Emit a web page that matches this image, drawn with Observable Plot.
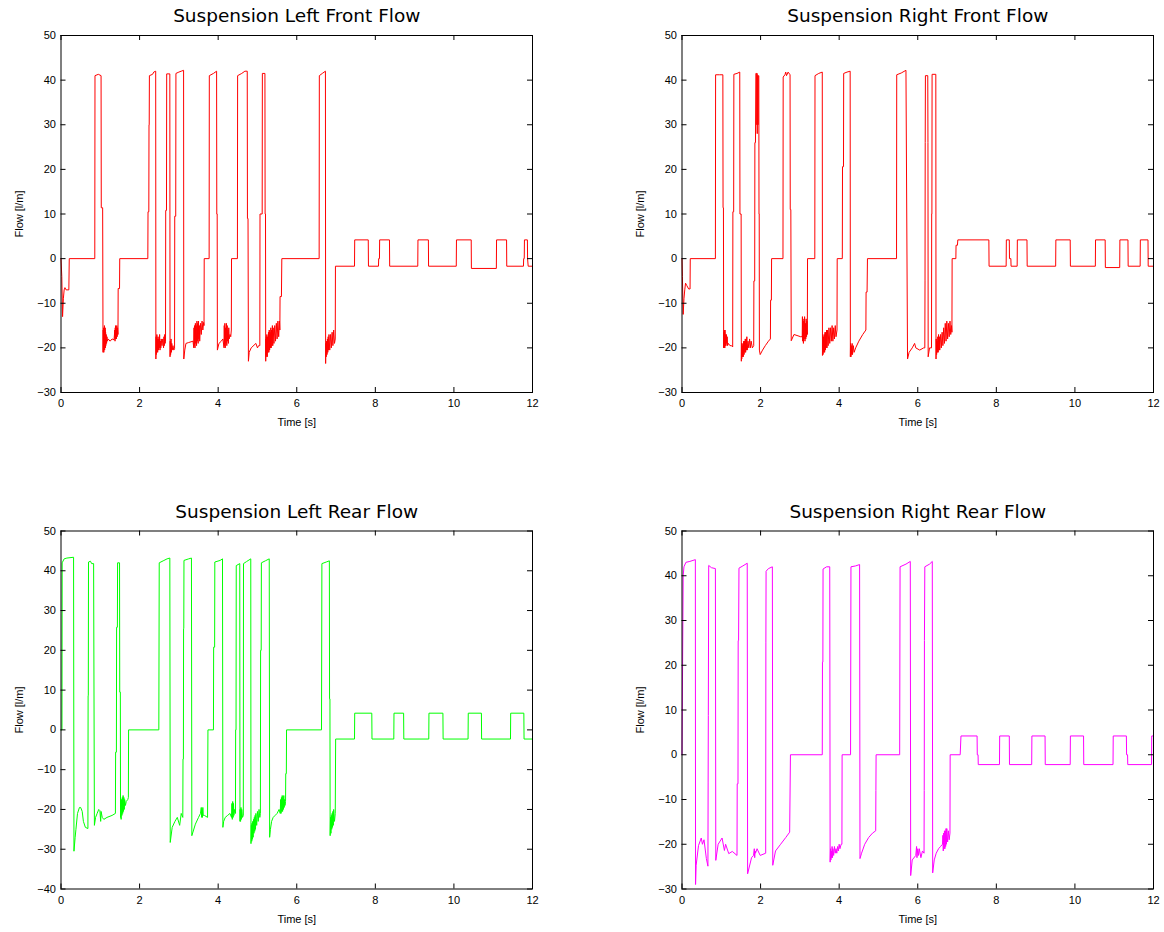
<!DOCTYPE html>
<html>
<head>
<meta charset="utf-8">
<script src="https://cdn.jsdelivr.net/npm/d3@7"></script>
<script src="https://cdn.jsdelivr.net/npm/@observablehq/plot@0.6"></script>
<style>
  html, body { margin: 0; padding: 0; background: #fff; }
  #wrap { position: relative; width: 1164px; height: 932px; background: #fff; overflow: hidden; }
  .panel { position: absolute; }
  .panel svg { max-width: none !important; }
</style>
</head>
<body>
<div id="wrap"></div>
<script>
// ---------- data ----------
const timeTicks = [0, 2, 4, 6, 8, 10, 12];
const flowTicksFront = [-30, -20, -10, 0, 10, 20, 30, 40, 50];
const flowTicksLeftRear = [-40, -30, -20, -10, 0, 10, 20, 30, 40, 50];
const flowTicksRightRear = [-30, -20, -10, 0, 10, 20, 30, 40, 50];
const panelTitles = ["Suspension Left Front Flow", "Suspension Right Front Flow", "Suspension Left Rear Flow", "Suspension Right Rear Flow"];
const panelColors = ["#ff0000", "#ff0000", "#00ff00", "#ff00ff"];

// [time s, flow l/m]
const leftFront = [
[0,0],[0.02,-4],[0.04,-13],[0.06,-9],[0.08,-7],[0.1,-6.5],[0.13,-7],[0.2,-7],[0.21,0],
[0.86,0],[0.865,41],[0.95,41.3],[1.02,41],[1.025,11.4],[1.06,11.4],
[1.07,-21],[1.075,-16],[1.08,-20.5],[1.085,-15.5],[1.09,-21],[1.095,-16.5],[1.1,-20],[1.105,-15],[1.11,-20.5],[1.115,-16],[1.12,-19.5],[1.125,-15.5],[1.13,-20],[1.135,-16.5],[1.14,-19.5],[1.15,-17],[1.16,-19],[1.17,-17.5],[1.18,-18.5],[1.2,-18],[1.25,-18.5],[1.3,-18],[1.35,-18.2],[1.37,-16],[1.375,-18.5],[1.38,-15.5],[1.385,-18],[1.39,-15],[1.395,-17.5],[1.4,-15.5],[1.41,-18],[1.42,-15],[1.43,-17.5],[1.44,-15.5],[1.45,-17],[1.455,-6.7],[1.49,-6.7],[1.495,0],
[2.21,0],[2.215,10.5],[2.235,10.5],[2.24,30],[2.245,30],[2.25,41],[2.33,41.3],[2.36,41.8],[2.41,42],
[2.415,-22.5],[2.42,-17.5],[2.425,-21.5],[2.43,-18],[2.435,-21],[2.44,-17],[2.445,-20.5],[2.45,-18],[2.46,-21],[2.47,-17.5],[2.48,-20.5],[2.49,-18],[2.5,-20],[2.51,-17],[2.52,-20.5],[2.53,-18.5],[2.54,-20],[2.55,-18],[2.57,-19.5],[2.59,-18],[2.61,-20],[2.62,-17.5],[2.63,-19.5],[2.64,-17],[2.65,-19],[2.66,-18.5],
[2.665,10.8],[2.685,10.8],[2.69,41.4],[2.77,41.4],
[2.775,-22],[2.78,-18.5],[2.79,-21.5],[2.8,-18],[2.81,-21],[2.82,-19],[2.83,-20.5],[2.85,-19.5],[2.87,-20.5],[2.89,-20.2],
[2.895,9.5],[2.92,9.5],[2.925,41.5],[3.0,41.8],[3.06,42],[3.12,42.2],
[3.125,-22.5],[3.15,-20.5],[3.18,-19],[3.25,-18.8],[3.36,-18.5],[3.38,-20],[3.385,-15.5],[3.39,-19.5],[3.4,-15],[3.41,-20],[3.42,-14.5],[3.43,-19],[3.44,-15],[3.45,-19.5],[3.46,-14],[3.47,-18.5],[3.48,-14.5],[3.49,-19],[3.5,-14],[3.51,-18],[3.52,-15],[3.53,-18.5],[3.55,-14.5],[3.57,-17],[3.59,-14],[3.61,-16],[3.63,-14.3],[3.64,-15],[3.645,0],
[3.77,0],[3.775,41],[3.88,41.5],[3.96,42],[3.965,10],[3.975,10],
[3.98,-20.5],[4.02,-19],[4.08,-18.5],[4.12,-18],[4.15,-20],[4.155,-15],[4.16,-19.5],[4.17,-14.5],[4.18,-20],[4.19,-15.5],[4.2,-19],[4.21,-14.5],[4.22,-19.5],[4.23,-15],[4.24,-18.5],[4.25,-16],[4.26,-19],[4.27,-15.5],[4.28,-18],[4.3,-17],[4.32,-17.5],[4.335,-16],[4.34,0],
[4.49,0],[4.495,41],[4.6,41.5],[4.68,42],[4.74,42],[4.745,9],[4.76,9],
[4.77,-23],[4.79,-21],[4.84,-20],[4.96,-19],[5.0,-20],[5.03,-19.5],[5.06,-19.5],
[5.065,10],[5.12,10],[5.125,41.5],[5.19,41.5],[5.195,10],[5.205,10],
[5.21,-23],[5.215,-18],[5.22,-22],[5.225,-17.5],[5.23,-21.5],[5.24,-17],[5.25,-22],[5.26,-17.5],[5.27,-21],[5.28,-16.5],[5.29,-21],[5.3,-16],[5.31,-20.5],[5.32,-16.5],[5.33,-20],[5.34,-15.5],[5.35,-20],[5.36,-16],[5.37,-19.5],[5.38,-15],[5.39,-19.5],[5.4,-15.5],[5.42,-19],[5.44,-15],[5.46,-18.5],[5.48,-14.5],[5.5,-18],[5.52,-14],[5.54,-17.5],[5.56,-14],[5.57,-16],[5.575,-8.5],[5.61,-8.5],[5.62,0],
[6.57,0],[6.575,41],[6.65,41.5],[6.73,42],
[6.735,-23.5],[6.74,-19],[6.75,-22],[6.76,-18.5],[6.77,-21.5],[6.78,-18],[6.79,-21],[6.8,-17.5],[6.81,-20.5],[6.82,-17],[6.84,-20.5],[6.86,-17],[6.88,-20],[6.9,-16.5],[6.92,-19.5],[6.94,-16],[6.96,-19],[6.98,-18],
[6.985,-1.7],[7.47,-1.7],[7.475,4.2],[7.82,4.2],[7.825,-1.7],[8.08,-1.7],[8.085,0],[8.105,0],[8.11,4.2],[8.36,4.2],[8.365,-1.7],
[9.08,-1.7],[9.085,4.2],[9.35,4.2],[9.355,-1.7],[10.06,-1.7],[10.065,4.2],[10.44,4.2],[10.445,-2.2],[11.08,-2.2],[11.085,4.2],[11.34,4.2],[11.345,-1.7],
[11.77,-1.7],[11.775,0],[11.79,0],[11.795,4.2],[11.87,4.2],[11.875,0],[11.89,-1.7],[12,-1.7]
];

const rightFront = [
[0,0],[0.01,-4],[0.03,-12.5],[0.05,-9],[0.07,-7],[0.09,-5.5],[0.12,-6],[0.17,-6.8],[0.205,-6.8],[0.21,0],
[0.85,0],[0.855,41.2],[0.95,41.2],[1.04,41.2],[1.045,11.4],[1.055,11.4],
[1.06,-20],[1.065,-16.5],[1.07,-20],[1.075,-16],[1.08,-19.5],[1.085,-16.5],[1.09,-20],[1.095,-16],[1.1,-19.5],[1.11,-17],[1.12,-19.5],[1.13,-17],[1.14,-19],[1.15,-17.5],[1.16,-19.5],[1.18,-19],[1.22,-19.5],[1.26,-19.5],[1.29,-19.8],
[1.295,10.5],[1.315,10.5],[1.32,41.3],[1.4,41.5],[1.47,41.8],[1.475,10],[1.505,10],
[1.51,-23],[1.515,-19],[1.52,-22.5],[1.53,-19.5],[1.54,-22],[1.55,-19],[1.56,-22],[1.57,-18.5],[1.58,-21.5],[1.59,-18.5],[1.6,-21],[1.61,-18],[1.62,-21],[1.63,-18],[1.64,-20.5],[1.65,-17.5],[1.66,-20.5],[1.68,-18.5],[1.7,-20],[1.72,-18],[1.74,-20],[1.76,-18.5],[1.79,-20],[1.825,-19.5],
[1.83,-5],[1.85,-5],[1.855,26],[1.87,26],[1.88,41.5],[1.9,41.5],[1.905,30],[1.91,41.5],[1.915,28],[1.92,41],[1.93,41],[1.935,30],[1.94,41],[1.955,41],[1.96,10],[1.965,10],
[1.97,-20.5],[1.99,-21.5],[2.05,-20.5],[2.12,-19.5],[2.2,-18.5],[2.25,-18],[2.255,-9.3],[2.275,-9.3],[2.28,0],
[2.57,0],[2.575,40.7],[2.62,41.2],[2.64,41.8],[2.66,41],[2.7,41.8],[2.75,41.2],[2.755,11],[2.77,11],
[2.78,-18.4],[2.85,-17],[3.02,-17.5],[3.06,-17.5],[3.065,-13],[3.07,-18.5],[3.08,-13.5],[3.09,-19],[3.1,-14],[3.11,-18],[3.12,-13],[3.13,-18.5],[3.14,-14.5],[3.15,-18],[3.16,-13.5],[3.17,-17.5],[3.18,-14],[3.19,-17],[3.195,0],
[3.38,0],[3.385,41],[3.48,41.5],[3.57,41.8],
[3.575,-21.7],[3.58,-17],[3.59,-21.5],[3.6,-17.5],[3.61,-21],[3.62,-17],[3.63,-21],[3.64,-16.5],[3.65,-20.5],[3.66,-16.5],[3.67,-20],[3.68,-16],[3.69,-20],[3.7,-16],[3.72,-19.5],[3.74,-15.5],[3.76,-19],[3.78,-15.5],[3.8,-18.5],[3.82,-15],[3.84,-18.5],[3.86,-15.5],[3.88,-18],[3.9,-15],[3.92,-17.5],[3.945,-16],[3.95,0],
[4.08,0],[4.085,20.6],[4.11,20.6],[4.115,41.5],[4.2,41.8],[4.28,42],
[4.285,-22],[4.29,-19],[4.3,-22],[4.31,-19.5],[4.32,-21.5],[4.33,-19],[4.34,-21.5],[4.36,-19.5],[4.38,-21],[4.42,-20],[4.5,-18.5],[4.6,-17],[4.68,-16],[4.685,-7.5],[4.71,-7.5],[4.72,0],
[5.46,0],[5.465,41.2],[5.58,41.6],[5.7,42.2],
[5.74,-22.5],[5.78,-21],[5.86,-20],[5.92,-19],[5.95,-20],[6.05,-20.5],[6.15,-20],[6.18,-20],
[6.185,-5],[6.19,26],[6.195,41],[6.255,41],[6.26,26],[6.265,-22],[6.3,-20],[6.35,-20],
[6.355,10],[6.36,10],[6.365,41.3],[6.46,41.3],
[6.465,-22.5],[6.47,-18],[6.48,-21.5],[6.49,-18.5],[6.5,-21],[6.51,-17.5],[6.52,-21],[6.53,-17],[6.54,-20.5],[6.55,-17.5],[6.56,-20.5],[6.58,-17],[6.6,-20],[6.62,-16.5],[6.64,-19.5],[6.66,-15.5],[6.68,-19],[6.7,-14.5],[6.72,-18.5],[6.74,-14],[6.76,-18],[6.78,-14.5],[6.8,-17.5],[6.82,-14],[6.84,-17],[6.86,-15],[6.87,-16.5],
[6.875,0],[6.97,0],[6.975,3],[7.01,3],[7.02,4.2],
[7.81,4.2],[7.815,-1.7],[8.25,-1.7],[8.255,4.2],[8.33,4.2],[8.335,0],[8.37,0],[8.375,-1.7],[8.53,-1.7],[8.535,4.2],[8.78,4.2],[8.785,-1.7],
[9.51,-1.7],[9.515,4.2],[9.88,4.2],[9.885,-1.7],[10.52,-1.7],[10.525,4.2],[10.77,4.2],[10.775,-2],[11.14,-2],[11.145,4.2],[11.35,4.2],[11.355,-1.7],
[11.66,-1.7],[11.665,4.2],[11.86,4.2],[11.865,-1.7],[12,-1.7]
];

const leftRear = [
[0,0],[0.025,0],[0.03,42],[0.08,43],[0.15,43.2],[0.32,43.4],
[0.33,-30.5],[0.36,-27],[0.38,-25],[0.42,-21],[0.47,-19.5],[0.5,-19.5],[0.54,-20.5],[0.57,-23],[0.62,-24.5],[0.685,-24.8],
[0.69,8.6],[0.695,8.6],[0.7,42.2],[0.75,42.4],[0.78,41.8],[0.83,41.8],
[0.85,-24],[0.88,-22],[0.92,-21],[0.96,-20],[0.99,-20.3],[1.01,-23],[1.02,-20.5],[1.05,-22],[1.09,-22.5],[1.17,-22],[1.3,-21.5],[1.385,-21],
[1.39,-5.6],[1.41,-5.6],[1.415,25.8],[1.435,25.8],[1.44,42],[1.49,42],[1.495,9.5],[1.51,9.5],
[1.515,-22],[1.52,-18],[1.53,-22.5],[1.54,-17.5],[1.55,-21.5],[1.56,-17],[1.57,-21],[1.58,-16.5],[1.59,-20.5],[1.6,-17],[1.61,-20],[1.62,-17.5],[1.64,-19],[1.66,-18],[1.7,-17.5],[1.715,-17],[1.72,0],
[2.49,0],[2.5,42],[2.6,42.5],[2.7,43],[2.77,43.2],
[2.78,-28.3],[2.83,-24.5],[2.9,-23],[2.96,-22],[3.02,-24],[3.06,-21],[3.1,-22],[3.105,-7.3],[3.115,-7.3],[3.12,25.5],[3.125,25.5],[3.13,42.6],[3.25,43],[3.32,43.2],
[3.33,-26.6],[3.42,-23.7],[3.5,-22],[3.55,-21],[3.57,-19.5],[3.58,-22],[3.59,-20],[3.6,-22],[3.61,-19.5],[3.62,-21.5],[3.65,-21.5],[3.73,-22],[3.74,0],
[3.88,0],[3.885,20.8],[3.91,20.8],[3.915,42.2],[4.05,42.6],[4.11,43],
[4.12,-24.5],[4.14,-23],[4.18,-22],[4.24,-21.5],[4.3,-21],[4.34,-22],[4.35,-18.5],[4.36,-22.5],[4.37,-18],[4.38,-22],[4.39,-18.5],[4.4,-21.5],[4.42,-20],[4.44,-21],
[4.445,0],[4.455,0],[4.46,41.3],[4.55,41.8],
[4.555,-23],[4.56,-20],[4.57,-23],[4.58,-19.5],[4.59,-22.5],[4.6,-20],[4.62,-22],[4.64,-21.5],
[4.645,41.8],[4.72,42.3],[4.83,43],
[4.835,-28.6],[4.845,-24],[4.855,-28],[4.86,-23.5],[4.87,-27.5],[4.88,-23],[4.89,-27],[4.9,-22.5],[4.91,-26],[4.92,-22],[4.93,-25.5],[4.94,-21.5],[4.95,-25],[4.96,-21],[4.98,-24],[5.0,-20.5],[5.02,-23],[5.04,-20],[5.06,-22],[5.075,-21],
[5.08,20],[5.095,20],[5.1,42],[5.2,42.5],[5.3,43],
[5.31,-27],[5.33,-25],[5.36,-23],[5.4,-22],[5.45,-21.5],[5.5,-21],[5.55,-20],[5.58,-21],[5.59,-17.5],[5.6,-21],[5.61,-17],[5.62,-20.5],[5.63,-16.5],[5.64,-20.5],[5.65,-17],[5.66,-20],[5.67,-16.5],[5.68,-19.5],[5.69,-17.5],[5.7,-19],[5.715,-18],
[5.72,-11],[5.735,-11],[5.74,0],
[6.63,0],[6.64,41.8],[6.75,42.2],[6.83,42.5],[6.835,7.8],[6.845,7.8],
[6.85,-26.6],[6.86,-22],[6.87,-26],[6.88,-21.5],[6.89,-25],[6.9,-21],[6.91,-24.5],[6.92,-20.5],[6.93,-24],[6.94,-20],[6.96,-23],[6.98,-21],
[6.99,-2.3],[7.47,-2.3],[7.475,4.2],[7.91,4.2],[7.915,-2.3],[8.47,-2.3],[8.475,4.2],[8.72,4.2],[8.725,-2.3],
[9.36,-2.3],[9.365,4.2],[9.72,4.2],[9.725,-2.3],[10.36,-2.3],[10.365,4.2],[10.7,4.2],[10.705,-2.3],
[11.44,-2.3],[11.445,4.2],[11.78,4.2],[11.785,-2.3],[12,-2.3]
];

const rightRear = [
[0,0],[0.03,40],[0.05,42],[0.1,43],[0.2,43.2],[0.34,43.6],
[0.345,-29],[0.36,-24.7],[0.42,-20.3],[0.49,-18.6],[0.52,-20],[0.56,-19],[0.62,-23.2],[0.66,-24.9],
[0.665,-6.1],[0.67,8.8],[0.68,42.3],[0.75,41.8],[0.85,41.6],
[0.86,-23.6],[0.92,-20],[1.02,-18.6],[1.08,-21.4],[1.11,-20],[1.19,-22.1],[1.28,-21.6],[1.4,-22.5],
[1.405,-6.5],[1.425,-6.5],[1.43,25.5],[1.44,25.5],[1.45,41.7],[1.55,42.2],[1.66,42.8],
[1.67,-26.6],[1.77,-23],[1.82,-22.5],[1.84,-21],[1.85,-23],[1.86,-21.5],[1.87,-22],[1.91,-21],[1.99,-22.5],[2.13,-22],
[2.135,25],[2.14,41],[2.2,41.6],[2.3,42],
[2.31,-24.7],[2.38,-21.5],[2.51,-20],[2.64,-18.5],[2.74,-17.3],[2.76,0],
[3.57,0],[3.575,20.7],[3.585,20.7],[3.59,41.5],[3.68,42],[3.76,42],
[3.77,-24],[3.78,-21],[3.79,-23.5],[3.8,-21.5],[3.81,-23],[3.82,-20.5],[3.83,-23],[3.84,-21],[3.86,-22.5],[3.88,-20.5],[3.9,-22],[3.92,-21],[3.94,-22],[3.96,-20.5],[3.98,-21.5],[4.0,-20],[4.02,-21],[4.05,-20],[4.07,-20],
[4.075,0],[4.29,0],[4.3,42],[4.42,42.2],[4.52,42.5],
[4.53,-23.2],[4.57,-22],[4.65,-20],[4.75,-18.5],[4.85,-17.5],[4.93,-17],[4.935,-8],[4.94,0],
[5.54,0],[5.55,42],[5.7,42.6],[5.81,43.2],
[5.82,-27],[5.86,-23.5],[5.95,-22.5],[5.97,-20.5],[5.98,-23],[6.0,-21],[6.02,-22.5],[6.04,-21],[6.08,-23],[6.12,-21.5],[6.16,-22],
[6.165,-8],[6.17,25.5],[6.18,42],[6.3,42.6],[6.37,43.2],
[6.38,-26.4],[6.42,-23.5],[6.47,-22],[6.53,-21],[6.58,-20.5],[6.63,-20],[6.64,-18],[6.65,-21.5],[6.66,-17.5],[6.67,-21],[6.68,-17],[6.69,-21],[6.7,-17],[6.71,-20.5],[6.72,-16.5],[6.73,-20],[6.74,-16.5],[6.76,-19.5],[6.78,-17],[6.8,-19],[6.82,-17.5],
[6.825,0],[7.08,0],[7.1,4.2],[7.51,4.2],[7.515,0],[7.535,0],[7.54,-2.2],
[8.08,-2.2],[8.085,4.2],[8.33,4.2],[8.335,-2.2],[8.9,-2.2],[8.905,4.2],[9.24,4.2],[9.245,-2.2],
[9.88,-2.2],[9.885,4.2],[10.22,4.2],[10.225,-2.2],[10.97,-2.2],[10.975,4.2],[11.31,4.2],[11.315,0],[11.34,0],[11.345,-2.2],
[11.95,-2.2],[11.955,4.2],[12,4.2]
];

// ---------- drawing ----------
const FONT = "'Liberation Sans', Arial, Helvetica, sans-serif";
const TITLE_FONT = "'DejaVu Sans', 'Liberation Sans', sans-serif";
const wrap = document.getElementById("wrap");

function panel({series, color, title, yTicks, left, top, mTop, plotH, mBottom}) {
  const mLeft = 60.5, plotW = 471.5, mRight = 10;
  const W = mLeft + plotW + mRight, H = mTop + plotH + mBottom;
  const data = series.map(([t, v]) => ({t, v}));
  const chart = Plot.plot({
    width: W,
    height: H,
    marginLeft: mLeft, marginRight: mRight, marginTop: mTop, marginBottom: mBottom,
    style: {fontFamily: FONT, fontSize: "11px", background: "white", color: "#000", overflow: "visible", maxWidth: "none"},
    x: {domain: [timeTicks[0], timeTicks[timeTicks.length - 1]]},
    y: {domain: [yTicks[0], yTicks[yTicks.length - 1]]},
    marks: [
      Plot.line(data, {x: "t", y: "v", stroke: color, strokeWidth: 1}),
      Plot.frame({stroke: "#000", strokeWidth: 1}),
      Plot.axisX(timeTicks, {tickSize: 0, tickPadding: 7, fontSize: 11, label: null}),
      Plot.axisY(yTicks, {tickSize: 0, tickPadding: 5, fontSize: 11, label: null}),
      Plot.tickX(timeTicks, {x: d => d, stroke: "#000", insetTop: plotH - 5}),
      Plot.tickX(timeTicks, {x: d => d, stroke: "#000", insetBottom: plotH - 5}),
      Plot.tickY(yTicks, {y: d => d, stroke: "#000", insetRight: plotW - 5}),
      Plot.tickY(yTicks, {y: d => d, stroke: "#000", insetLeft: plotW - 5}),
      Plot.text(["Time [s]"], {frameAnchor: "bottom", lineAnchor: "middle", textAnchor: "middle", dy: 30, fontSize: 11, fill: "#000"}),
      Plot.text(["Flow [l/m]"], {frameAnchor: "left", lineAnchor: "middle", textAnchor: "middle", dx: -42, rotate: -90, fontSize: 11, fill: "#000"}),
      Plot.text([title], {frameAnchor: "top", lineAnchor: "middle", textAnchor: "middle", dy: -19, fontSize: 18.5, fontFamily: TITLE_FONT, fill: "#000"})
    ]
  });
  const div = document.createElement("div");
  div.className = "panel";
  div.style.left = left + "px";
  div.style.top = top + "px";
  div.style.width = W + "px";
  div.style.height = H + "px";
  div.appendChild(chart);
  wrap.appendChild(div);
}

panel({series: leftFront, color: panelColors[0], title: panelTitles[0], yTicks: flowTicksFront, left: 0, top: 0, mTop: 35, plotH: 357, mBottom: 40});
panel({series: rightFront, color: panelColors[1], title: panelTitles[1], yTicks: flowTicksFront, left: 621, top: 0, mTop: 35, plotH: 357, mBottom: 40});
panel({series: leftRear, color: panelColors[2], title: panelTitles[2], yTicks: flowTicksLeftRear, left: 0, top: 495, mTop: 35.5, plotH: 358, mBottom: 40});
panel({series: rightRear, color: panelColors[3], title: panelTitles[3], yTicks: flowTicksRightRear, left: 621, top: 495, mTop: 35.5, plotH: 358, mBottom: 40});
</script>
</body>
</html>
